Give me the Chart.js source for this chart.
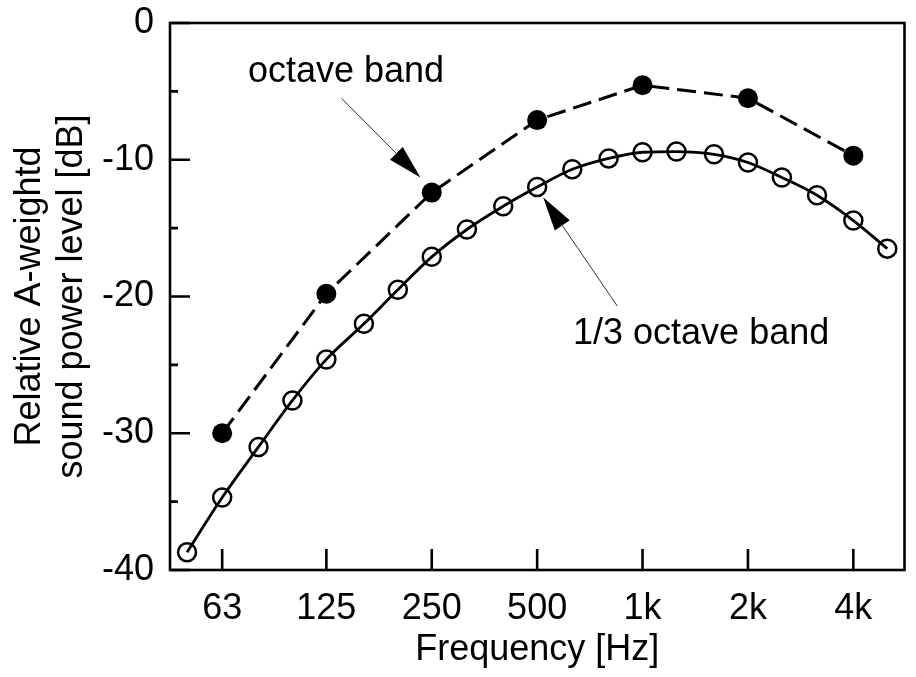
<!DOCTYPE html>
<html>
<head>
<meta charset="utf-8">
<script src="https://cdn.jsdelivr.net/npm/chart.js@4.4.1/dist/chart.umd.min.js"></script>
<style>
  html, body { margin: 0; padding: 0; background: #fff; }
  #wrap { width: 916px; height: 677px; }
</style>
</head>
<body>
<div id="wrap"><canvas id="graficoNivel"></canvas></div>
<script>
// dados (Hz / dB)
var freqTerco = [50, 63, 80, 100, 125, 160, 200, 250, 315, 400, 500, 630, 800, 1000, 1250, 1600, 2000, 2500, 3150, 4000, 5000];
var nivelTerco = [-38.7, -34.7, -31.0, -27.6, -24.6, -22.0, -19.5, -17.1, -15.1, -13.4, -12.0, -10.7, -9.9, -9.45, -9.4, -9.6, -10.2, -11.3, -12.6, -14.45, -16.5];
var freqOitava = [63, 125, 250, 500, 1000, 2000, 4000];
var nivelOitava = [-30.0, -19.8, -12.4, -7.1, -4.55, -5.5, -9.7];
var tickFreq = [63, 125, 250, 500, 1000, 2000, 4000];
var tickLabels = ['63', '125', '250', '500', '1k', '2k', '4k'];
var yMaiores = [0, -10, -20, -30, -40];
var yMenores = [-5, -15, -25, -35];

// setas de anotacao em coordenadas do grafico (freq, dB)
var notas = [
  { texto: 'octave band', tf: 74.6, tdb: -4.35, de: [138, -5.5], para: [232, -11.3] },
  { texto: '1/3 octave band', tf: 633, tdb: -23.45, de: [847, -20.7], para: [520, -12.75] }
];

var fonte = '"Liberation Sans", Arial, Helvetica, sans-serif';
var tamFonte = 36;

function paraPontos(xs, ys) {
  return xs.map(function (f, i) { return { x: f, y: ys[i] }; });
}

// moldura e marcas para dentro
var moldura = {
  id: 'moldura',
  beforeDatasetsDraw: function (chart) {
    var ctx = chart.ctx, a = chart.chartArea, sx = chart.scales.x, sy = chart.scales.y;
    ctx.save();
    ctx.strokeStyle = '#000';
    ctx.lineWidth = 2.6;
    ctx.strokeRect(a.left, a.top, a.right - a.left, a.bottom - a.top);
    ctx.beginPath();
    tickFreq.forEach(function (f) {
      var px = sx.getPixelForValue(f);
      ctx.moveTo(px, a.bottom);
      ctx.lineTo(px, a.bottom - 21);
    });
    yMaiores.forEach(function (v) {
      var py = sy.getPixelForValue(v);
      ctx.moveTo(a.left, py);
      ctx.lineTo(a.left + 20, py);
    });
    yMenores.forEach(function (v) {
      var py = sy.getPixelForValue(v);
      ctx.moveTo(a.left, py);
      ctx.lineTo(a.left + 8, py);
    });
    ctx.stroke();
    ctx.restore();
  },
  afterDatasetsDraw: function (chart) {
    var ctx = chart.ctx, sx = chart.scales.x, sy = chart.scales.y;
    ctx.save();
    notas.forEach(function (n) {
      var x0 = sx.getPixelForValue(n.de[0]), y0 = sy.getPixelForValue(n.de[1]);
      var x1 = sx.getPixelForValue(n.para[0]), y1 = sy.getPixelForValue(n.para[1]);
      var ang = Math.atan2(y1 - y0, x1 - x0);
      var comp = 34, meia = 9;
      var bx = x1 - comp * Math.cos(ang), by = y1 - comp * Math.sin(ang);
      ctx.strokeStyle = '#333';
      ctx.lineWidth = 1;
      ctx.beginPath();
      ctx.moveTo(x0, y0);
      ctx.lineTo(bx, by);
      ctx.stroke();
      ctx.fillStyle = '#000';
      ctx.beginPath();
      ctx.moveTo(x1, y1);
      ctx.lineTo(bx + meia * Math.sin(ang), by - meia * Math.cos(ang));
      ctx.lineTo(bx - meia * Math.sin(ang), by + meia * Math.cos(ang));
      ctx.closePath();
      ctx.fill();
      ctx.font = tamFonte + 'px ' + fonte;
      ctx.textAlign = 'left';
      ctx.textBaseline = 'alphabetic';
      ctx.fillText(n.texto, sx.getPixelForValue(n.tf), sy.getPixelForValue(n.tdb));
    });
    ctx.restore();
  }
};

const ctx = document.getElementById('graficoNivel');

new Chart(ctx, {
  type: 'line',
  data: {
    datasets: [{
      label: 'octave band',
      data: paraPontos(freqOitava, nivelOitava),
      borderColor: '#000',
      borderWidth: 3,
      borderDash: [19, 8],
      tension: 0,
      pointRadius: 10,
      pointBackgroundColor: '#000',
      pointBorderColor: '#000',
      pointBorderWidth: 0
    }, {
      label: '1/3 octave band',
      data: paraPontos(freqTerco, nivelTerco),
      borderColor: '#000',
      borderWidth: 2.8,
      cubicInterpolationMode: 'monotone',
      pointRadius: 9,
      pointBackgroundColor: 'rgba(0,0,0,0)',
      pointBorderColor: '#000',
      pointBorderWidth: 2.5
    }]
  },
  options: {
    responsive: true,
    maintainAspectRatio: false,
    animation: false,
    devicePixelRatio: 1,
    layout: { padding: { top: 23, right: 6, left: 0, bottom: 0 } },
    plugins: { legend: { display: false }, tooltip: { enabled: false } },
    scales: {
      x: {
        type: 'logarithmic',
        min: 44.7,
        max: 5600,
        afterBuildTicks: function (scale) {
          scale.ticks = tickFreq.map(function (v) { return { value: v }; });
        },
        afterFit: function (scale) {
          scale.height = 107;
          scale.paddingLeft = 0;
          scale.paddingRight = 0;
        },
        grid: { display: false, drawTicks: false },
        border: { display: false },
        ticks: {
          autoSkip: false,
          maxRotation: 0,
          padding: 17,
          color: '#000',
          font: { family: fonte, size: tamFonte },
          callback: function (val, i) { return tickLabels[i]; }
        },
        title: {
          display: true,
          text: 'Frequency [Hz]',
          color: '#000',
          font: { family: fonte, size: tamFonte },
          padding: { top: 0, bottom: 5 }
        }
      },
      y: {
        min: -40,
        max: 0,
        afterBuildTicks: function (scale) {
          scale.ticks = yMaiores.map(function (v) { return { value: v }; });
        },
        afterFit: function (scale) {
          scale.width = 170;
          scale.paddingTop = 0;
          scale.paddingBottom = 0;
        },
        grid: { display: false, drawTicks: false },
        border: { display: false },
        ticks: {
          padding: 16,
          color: '#000',
          font: { family: fonte, size: tamFonte }
        },
        title: {
          display: true,
          text: ['Relative A-weightd', 'sound power level [dB]'],
          color: '#000',
          font: { family: fonte, size: tamFonte, lineHeight: 1.17 },
          padding: { top: 9, bottom: 0 }
        }
      }
    }
  },
  plugins: [moldura]
});
</script>
</body>
</html>
